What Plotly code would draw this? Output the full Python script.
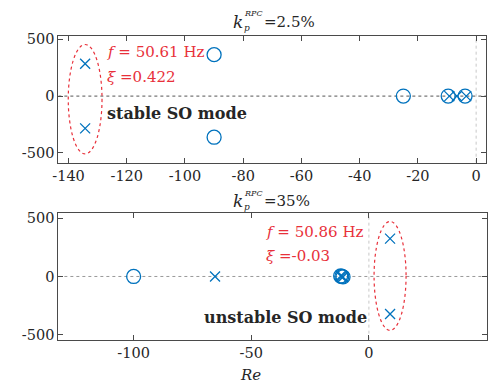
import plotly.graph_objects as go

W, H = 489, 387

# ---- data ----
# top subplot (k_p^RPC = 2.5%)
top_zeros_re = [-90, -90, -25, -9.6, -3.8]
top_zeros_im = [365, -362, 0, 0, 0]
top_poles_re = [-134.3, -134.3, -9.2, -6.6, -3.4]
top_poles_im = [284, -284, 0, 0, 0]
top_xticks = [-140, -120, -100, -80, -60, -40, -20, 0]
top_xticktext = ["-140", "-120", "-100", "-80", "-60", "-40", "-20", "0"]
y_ticks = [-500, 0, 500]
y_ticktext = ["-500", "0", "500"]

# bottom subplot (k_p^RPC = 35%)
bot_zeros_re = [-100, -12.0, -11.5, -11.0]
bot_zeros_im = [0, 4, 0, -4]
bot_poles_re = [-65.4, -12.0, -11.5, -11.0, 9.0, 9.0]
bot_poles_im = [0, 4, 0, -4, 325, -322]
bot_xticks = [-100, -50, 0]
bot_xticktext = ["-100", "-50", "0"]

BLUE = "#0072BD"
RED = "#e8303a"
AX = "#4a4a4a"
TXT = "#262626"
FONT = "DejaVu Serif"

fig = go.Figure()

def add_pz(zr, zi, pr, pi, xa, ya):
    fig.add_trace(go.Scatter(x=zr, y=zi, mode="markers", xaxis=xa, yaxis=ya,
                             marker=dict(symbol="circle-open", size=14, color=BLUE,
                                         line=dict(width=1.3, color=BLUE)),
                             showlegend=False, hoverinfo="skip"))
    fig.add_trace(go.Scatter(x=pr, y=pi, mode="markers", xaxis=xa, yaxis=ya,
                             marker=dict(symbol="x-thin-open", size=10, color=BLUE,
                                         line=dict(width=1.3, color=BLUE)),
                             showlegend=False, hoverinfo="skip"))

add_pz(top_zeros_re, top_zeros_im, top_poles_re, top_poles_im, "x", "y")
add_pz(bot_zeros_re, bot_zeros_im, bot_poles_re, bot_poles_im, "x2", "y2")

axcommon = dict(showline=True, linecolor=AX, linewidth=1, mirror="ticks",
                ticks="inside", ticklen=5, tickcolor=AX, showgrid=False,
                zeroline=False, tickfont=dict(family=FONT, size=14.5, color=TXT))

fig.update_layout(
    width=W, height=H, margin=dict(l=0, r=0, t=0, b=0),
    paper_bgcolor="white", plot_bgcolor="white",
    xaxis=dict(domain=[53/W, 486/W], range=[-143.5, 3.4], anchor="y",
               tickvals=top_xticks, ticktext=top_xticktext, **axcommon),
    yaxis=dict(domain=[1-161/H, 1-32/H], range=[-586, 526], anchor="x",
               tickvals=y_ticks, ticktext=y_ticktext, **axcommon),
    xaxis2=dict(domain=[53/W, 486.5/W], range=[-132, 50], anchor="y2",
                tickvals=bot_xticks, ticktext=bot_xticktext, **axcommon),
    yaxis2=dict(domain=[1-341.7/H, 1-212.7/H], range=[-542, 542], anchor="x2",
                tickvals=y_ticks, ticktext=y_ticktext, **axcommon),
)

shapes = []
# zero lines
for xa, ya, xr, yr, col in [("x", "y", [-143.5, 3.4], [-586, 526], "#555555"),
                             ("x2", "y2", [-132, 50], [-542, 542], "#9a9a9a")]:
    shapes.append(dict(type="line", xref=xa, yref=ya, x0=xr[0], x1=xr[1], y0=0, y1=0,
                       line=dict(color=col, width=1, dash="dot"), layer="below"))
    shapes.append(dict(type="line", xref=xa, yref=ya, x0=0, x1=0, y0=yr[0], y1=yr[1],
                       line=dict(color="#c8c8c8", width=1, dash="dot"), layer="below"))

# ellipses around the SO mode poles (derived from pole data)
def ellipse(xa, ya, cx, top, bottom, halfw):
    return dict(type="circle", xref=xa, yref=ya, x0=cx - halfw, x1=cx + halfw,
                y0=bottom, y1=top, line=dict(color=RED, width=1.2, dash="dot"))

shapes.append(ellipse("x", "y", top_poles_re[0], top_poles_im[0] + 170, top_poles_im[1] - 225, 5.8))
shapes.append(ellipse("x2", "y2", bot_poles_re[4], bot_poles_im[4] + 147, bot_poles_im[5] - 140, 6.8))
fig.update_layout(shapes=shapes)

ann = []
def txt(text, x, y, xref, yref, size=15, color=RED, xanchor="left"):
    ann.append(dict(text=text, x=x, y=y, xref=xref, yref=yref, showarrow=False,
                    xanchor=xanchor, yanchor="middle",
                    font=dict(family=FONT, size=size, color=color)))

# top annotations
txt("<i>f</i> = 50.61 Hz", -127.5, 385, "x", "y")
txt("<i>ξ</i> =0.422", -127.5, 170, "x", "y")
txt("<b>stable SO mode</b>", -127.5, -150, "x", "y", size=16, color=TXT)
# bottom annotations
txt("<i>f</i> = 50.86 Hz", -44.5, 380, "x2", "y2")
txt("<i>ξ</i> =-0.03", -44.5, 172, "x2", "y2")
txt("<b>unstable SO mode</b>", 0, -350, "x2", "y2", size=16, color=TXT, xanchor="right")

# titles k_p^{RPC}
def title(ybase, rest):
    ann.append(dict(text="<i>k</i>", x=235/W, y=1-(ybase)/H, xref="paper", yref="paper",
                    showarrow=False, xanchor="center", yanchor="middle",
                    font=dict(family=FONT, size=17, color=TXT)))
    ann.append(dict(text="<i>RPC</i>", x=239/W, y=1-(ybase-8)/H, xref="paper", yref="paper",
                    showarrow=False, xanchor="left", yanchor="middle",
                    font=dict(family=FONT, size=8, color=TXT)))
    ann.append(dict(text="<i>p</i>", x=239/W, y=1-(ybase+6)/H, xref="paper", yref="paper",
                    showarrow=False, xanchor="left", yanchor="middle",
                    font=dict(family=FONT, size=9, color=TXT)))
    ann.append(dict(text=rest, x=259/W, y=1-(ybase)/H, xref="paper", yref="paper",
                    showarrow=False, xanchor="left", yanchor="middle",
                    font=dict(family=FONT, size=15, color=TXT)))

title(17, "=2.5%")
title(200, "=35%")

ann.append(dict(text="<i>Re</i>", x=248/W, y=1-378/H, xref="paper", yref="paper",
                showarrow=False, xanchor="center", yanchor="middle",
                font=dict(family=FONT, size=15, color=TXT)))
fig.update_layout(annotations=ann)

fig.write_html("out.html")
